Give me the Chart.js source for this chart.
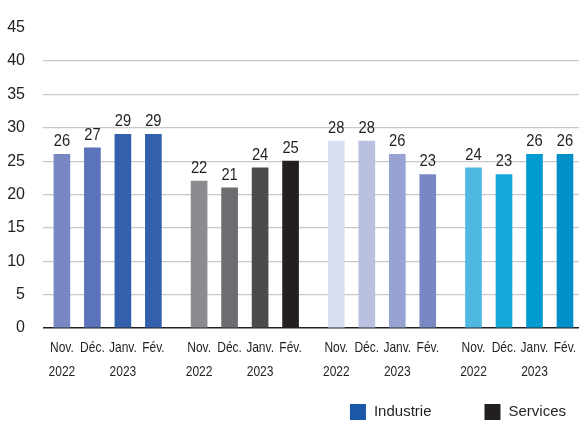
<!DOCTYPE html>
<html>
<head>
<meta charset="utf-8">
<script src="https://cdn.jsdelivr.net/npm/chart.js@4"></script>
<style>
  html, body { margin: 0; padding: 0; background: #fff; }
  #wrap { width: 579px; height: 421px; }
</style>
</head>
<body>
<div id="wrap"><canvas id="chart"></canvas></div>
<script>
// Month labels under each bar (repeated for every group)
const monthLabels = [['Nov.', '2022'], ['Déc.'], ['Janv.', '2023'], ['Fév.']];

// Values per group
const industrie = [26, 27, 29, 29];
const services = [22, 21, 24, 25];
const serie3 = [28, 28, 26, 23];
const serie4 = [24, 23, 26, 26];

// Bar colours per group
const industrieColors = ['#7886c2', '#5a73ba', '#3360ad', '#3360ad'];
const servicesColors = ['#8b8c90', '#6c6d71', '#4a4b4d', '#231f20'];
const serie3Colors = ['#dadff0', '#b9c0e0', '#97a3d2', '#7988c2'];
const serie4Colors = ['#4fb8e0', '#14a9d8', '#009bd1', '#008fc7'];

// Legend
const legendNames = ['Industrie', 'Services'];
const legendColors = ['#1c57a7', '#231f20'];

const yTicks = [0, 5, 10, 15, 20, 25, 30, 35, 40, 45];

const groups = [industrie, services, serie3, serie4];
const groupColors = [industrieColors, servicesColors, serie3Colors, serie4Colors];
const GROUP_STEP = 4.5; // 4 bars + 1.5 slot gap

const points = [];
const colors = [];
const tickPos = [];
const tickText = {};
groups.forEach((vals, g) => {
  vals.forEach((v, i) => {
    const x = g * GROUP_STEP + i;
    points.push({ x: x, y: v });
    colors.push(groupColors[g][i]);
    tickPos.push(x);
    tickText[x] = monthLabels[i];
  });
});

const FONT = "'Liberation Sans', Arial, sans-serif";
const TEXT = '#231f20';

// draws text squeezed horizontally (the original uses a narrow typeface)
function narrowText(ctx, text, x, y, squeeze) {
  ctx.save();
  ctx.translate(x, y);
  ctx.scale(squeeze, 1);
  ctx.fillText(text, 0, 0);
  ctx.restore();
}

const valueLabels = {
  id: 'valueLabels',
  afterDatasetsDraw(chart) {
    const ctx = chart.ctx;
    const meta = chart.getDatasetMeta(0);
    ctx.save();
    ctx.font = '16px ' + FONT;
    ctx.fillStyle = TEXT;
    ctx.textAlign = 'center';
    ctx.textBaseline = 'alphabetic';
    meta.data.forEach((bar, i) => {
      narrowText(ctx, String(points[i].y), bar.x, bar.y - 8, 0.92);
    });
    ctx.restore();
  }
};

// x labels, placed with the library's x scale
const monthTicks = {
  id: 'monthTicks',
  afterDraw(chart) {
    const ctx = chart.ctx;
    const xs = chart.scales.x;
    ctx.save();
    ctx.font = '15px ' + FONT;
    ctx.fillStyle = TEXT;
    ctx.textAlign = 'center';
    ctx.textBaseline = 'alphabetic';
    tickPos.forEach(v => {
      const px = xs.getPixelForValue(v);
      tickText[v].forEach((line, k) => {
        narrowText(ctx, line, px, xs.top + 24 + k * 24, 0.8);
      });
    });
    ctx.restore();
  }
};

const customLegend = {
  id: 'customLegend',
  afterDraw(chart) {
    const ctx = chart.ctx;
    ctx.save();
    ctx.font = '15px ' + FONT;
    ctx.textBaseline = 'middle';
    ctx.textAlign = 'left';
    let x = chart.width - 13;
    const y = 412;
    for (let i = legendNames.length - 1; i >= 0; i--) {
      const w = ctx.measureText(legendNames[i]).width;
      x -= w;
      ctx.fillStyle = TEXT;
      ctx.fillText(legendNames[i], x, y);
      x -= 8 + 16;
      ctx.fillStyle = legendColors[i];
      ctx.fillRect(x, y - 8, 16, 16);
      x -= 53;
    }
    ctx.restore();
  }
};

new Chart(document.getElementById('chart'), {
  type: 'bar',
  data: {
    datasets: [{
      data: points,
      backgroundColor: colors,
      barThickness: 16
    }]
  },
  options: {
    responsive: true,
    maintainAspectRatio: false,
    animation: false,
    layout: { padding: { top: 27, right: 0, left: 0, bottom: 32 } },
    plugins: {
      legend: { display: false },
      tooltip: { enabled: false }
    },
    scales: {
      x: {
        type: 'linear',
        offset: false,
        min: -0.62,
        max: 16.96,
        grid: { display: false },
        border: { display: false },
        afterBuildTicks: scale => {
          scale.ticks = tickPos.map(v => ({ value: v }));
        },
        afterFit: scale => { scale.height = 61; },
        ticks: { display: false }
      },
      y: {
        min: 0,
        max: 45,
        afterBuildTicks: scale => {
          scale.ticks = yTicks.map(v => ({ value: v }));
        },
        afterFit: scale => { scale.width = 43; },
        border: { display: false },
        grid: {
          drawTicks: false,
          color: c => c.tick.value === 0 ? TEXT : (c.tick.value === 45 ? 'rgba(0,0,0,0)' : '#c8c8c8'),
          lineWidth: c => c.tick.value === 0 ? 1.5 : 1.2
        },
        ticks: {
          padding: 18,
          color: TEXT,
          font: { family: FONT, size: 16 }
        }
      }
    }
  },
  plugins: [valueLabels, monthTicks, customLegend]
});
</script>
</body>
</html>
